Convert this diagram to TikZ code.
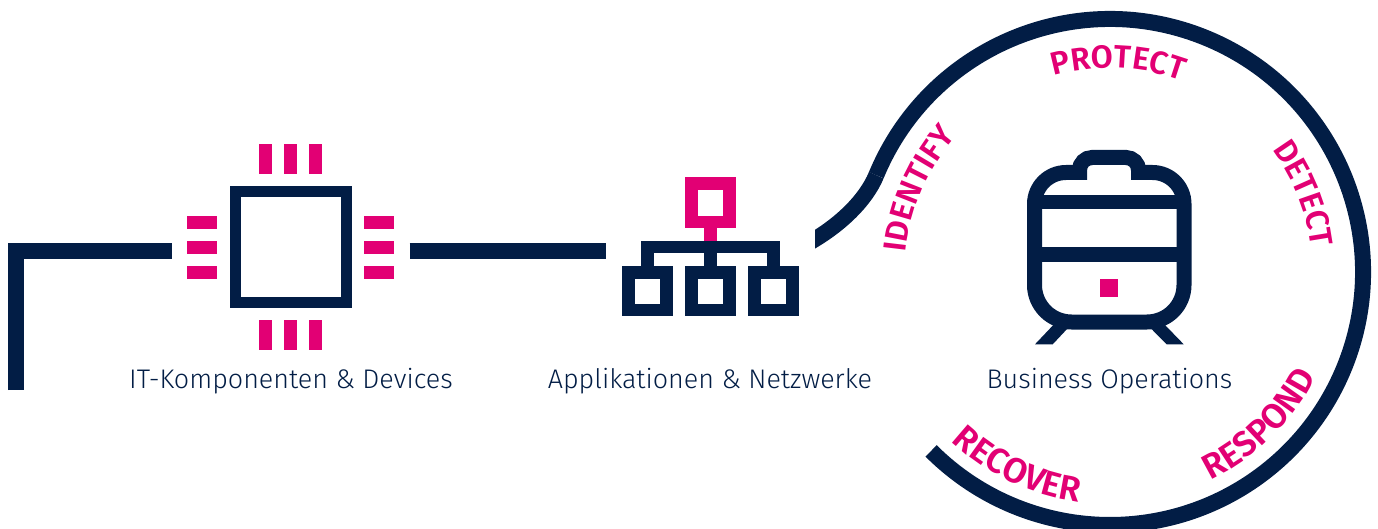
\documentclass[tikz,border=0pt]{standalone}
\usepackage{fontspec}
\usetikzlibrary{calc,decorations.text}
\newfontfamily\capfont{Fira Sans Light}
\newfontfamily\arcfont{Fira Sans SemiBold}
\definecolor{navy}{HTML}{021D45}
\definecolor{tmagenta}{HTML}{E20074}
\tikzset{
  navyline/.style={draw=navy,line width=16pt,miter limit=10},
  thinbox/.style={draw=navy,line width=12.6pt},
  trainline/.style={draw=navy,line width=15pt,miter limit=10},
  pinkfill/.style={fill=tmagenta},
  navyfill/.style={fill=navy},
  caption/.style={anchor=base,text=navy,font=\capfont\fontsize{26.9}{30}\selectfont,inner sep=0pt},
  arclabel/.style={decorate,decoration={text along path,text color=tmagenta,text align=center,text={|\arcfont\fontsize{32}{35}\selectfont|#1}}},
  arclabelin/.style={decorate,decoration={text along path,text color=tmagenta,text align=center,text={|\arcfont\fontsize{35}{38}\selectfont|#1}}}
}
\begin{document}
\begin{tikzpicture}[x=1pt,y=-1pt]
\useasboundingbox (0,0) rectangle (1378,529);
\clip (0,0) rectangle (1378,529);
\coordinate (c) at (1110,272);
% left connector
\coordinate (la) at (16,390);
\coordinate (lb) at (16,251);
\coordinate (lc) at (172,251);
\draw[navyline] (la) -- (lb) -- (lc);
% chip
\draw[draw=navy,line width=11pt] (235.5,192) rectangle (346,302);
\foreach \px in {259,284,309}{
  \fill[pinkfill] (\px,144) rectangle ++(13,29.7);
  \fill[pinkfill] (\px,320.4) rectangle ++(13,30);
}
\foreach \py in {215.7,240.7,265.7}{
  \fill[pinkfill] (187.3,\py) rectangle ++(30,13);
  \fill[pinkfill] (364,\py) rectangle ++(29.7,13);
}
% middle connector
\coordinate (ma) at (409.7,251);
\coordinate (mb) at (606,251);
\draw[navyline] (ma) -- (mb);
% network
\draw[draw=tmagenta,line width=12.6pt] (691.3,183.6) rectangle (729.4,222);
\fill[pinkfill] (704,228) rectangle (716.7,241);
\fill[navyfill] (641,240.7) rectangle (779.7,253.3);
\foreach \sx in {641,704,767.2}{
  \fill[navyfill] (\sx,253) rectangle ++(12.5,13.3);
}
\foreach \bx in {628.3,691.3,754.6}{
  \draw[thinbox] (\bx,272.3) rectangle ++(38.1,37.7);
}
% ring
\coordinate (rs) at ($(c)+(157.5:253pt)$);
\draw[navyline] (rs) arc[start angle=157.5,end angle=-135,radius=253pt];
\begin{scope}
\clip (815,100) rectangle (900,300);
\draw[navyline] (rs) .. controls (866,200) and (840,226) .. (805,245);
\end{scope}
% train
\draw[trainline,line join=miter]
  (1034.5,285) -- (1034.5,204)
  arc[start angle=180,end angle=90,radius=31.5pt]
  -- (1079.5,172.5) -- (1079.5,170)
  arc[start angle=180,end angle=90,radius=12.5pt]
  -- (1126,157.5)
  arc[start angle=90,end angle=0,radius=12.5pt]
  -- (1138.5,172.5) -- (1152.5,172.5)
  arc[start angle=90,end angle=0,radius=31.5pt]
  -- (1184,285)
  arc[start angle=0,end angle=-90,radius=37pt]
  -- (1071.5,322)
  arc[start angle=-90,end angle=-180,radius=37pt]
  -- cycle;
\fill[navyfill] (1034.5,195) rectangle (1184,209.3);
\fill[navyfill] (1034.5,247.3) rectangle (1184,262);
\fill[pinkfill] (1100,279) rectangle (1118,297);
\fill[navyfill] (1053.3,325) -- (1035,344.3) -- (1052.7,344.3) -- (1068,328) -- cycle;
\fill[navyfill] (1165,325) -- (1183.7,344.3) -- (1166.7,344.3) -- (1150.5,328) -- cycle;
% captions
\node[caption] (cap1) at (291,388.5) {IT-Komponenten \& Devices};
\node[caption] (cap2) at (710,388.5) {Applikationen \& Netzwerke};
\node[caption] (cap3) at (1109.5,388.5) {Business Operations};
% arc labels
\path[arclabel={IDENTIFY}] ($(c)+(201.5:205pt)$) arc[start angle=201.5,end angle=111.5,radius=205pt];
\path[arclabel={PROTECT}] ($(c)+(132.7:204pt)$) arc[start angle=132.7,end angle=42.7,radius=204pt];
\path[arclabel={DETECT}] ($(c)+(67:203pt)$) arc[start angle=67,end angle=-23,radius=203pt];
\path[arclabelin={RESPOND}] ($(c)+(-90.6:231pt)$) arc[start angle=-90.6,end angle=-0.6,radius=231pt];
\path[arclabelin={RECOVER}] ($(c)+(199.5:232pt)$) arc[start angle=199.5,end angle=289.5,radius=232pt];
\end{tikzpicture}
\end{document}
